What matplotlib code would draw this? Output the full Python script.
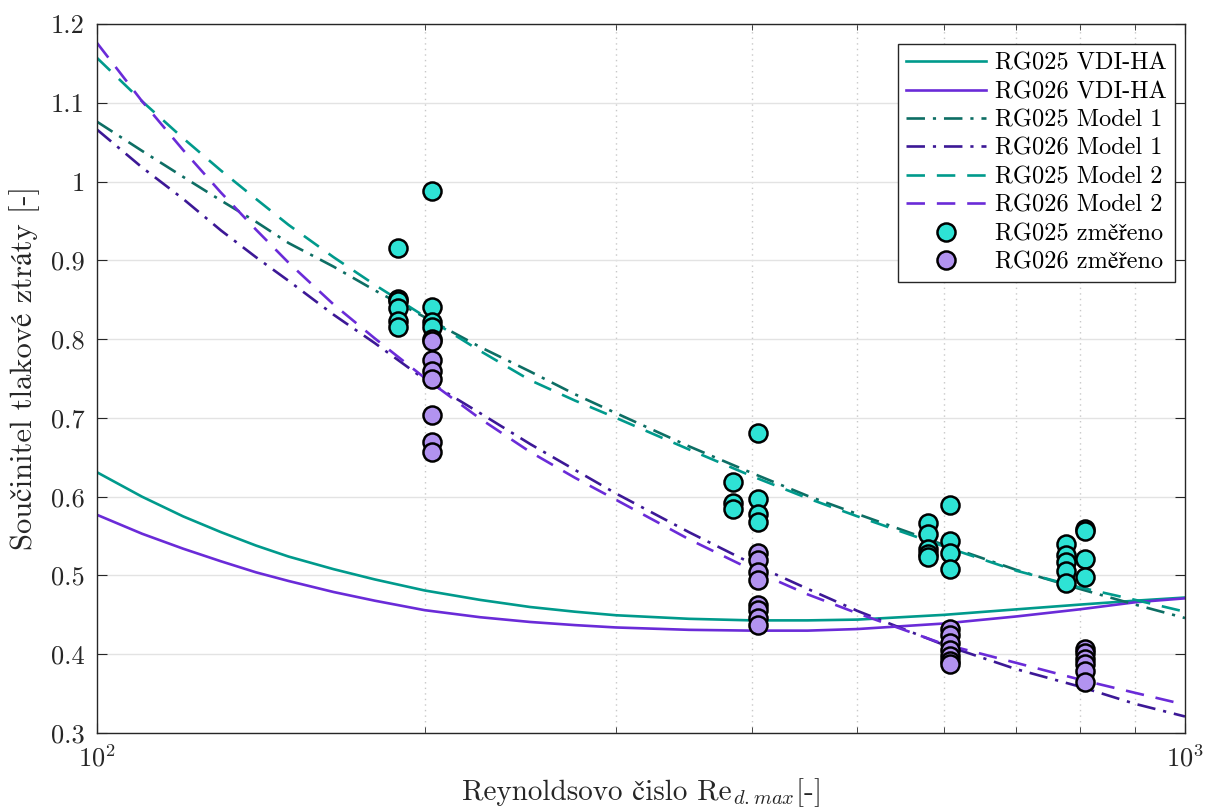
import numpy as np
import matplotlib
matplotlib.use("Agg")
import matplotlib.pyplot as plt
from matplotlib.ticker import LogLocator, NullFormatter, MultipleLocator

plt.rcParams['font.family'] = ['cmr10', 'STIXGeneral', 'DejaVu Serif']
plt.rcParams['mathtext.fontset'] = 'custom'
plt.rcParams['mathtext.rm'] = 'cmr10'
plt.rcParams['mathtext.it'] = 'cmmi10'
plt.rcParams['mathtext.bf'] = 'cmb10'
plt.rcParams['mathtext.fallback'] = 'stix'
plt.rcParams['axes.formatter.use_mathtext'] = True

# ============================================================
# data
# ============================================================
re_curve = [100, 110, 120, 130, 140, 150, 165, 180, 200, 225, 250, 275, 300,
            350, 400, 450, 500, 600, 700, 800, 900, 1000]
vdi_025 = [0.631, 0.600, 0.575, 0.555, 0.538, 0.524, 0.508, 0.495, 0.481, 0.469, 0.460,
           0.454, 0.4495, 0.445, 0.443, 0.443, 0.444, 0.450, 0.457, 0.463, 0.468, 0.472]
vdi_026 = [0.577, 0.553, 0.534, 0.518, 0.504, 0.493, 0.479, 0.468, 0.456, 0.447, 0.441,
           0.437, 0.434, 0.431, 0.430, 0.430, 0.432, 0.439, 0.448, 0.457, 0.466, 0.471]
m1_025 = [1.076, 1.039, 1.006, 0.976, 0.949, 0.922, 0.892, 0.862, 0.828, 0.790, 0.759,
          0.730, 0.706, 0.664, 0.630, 0.601, 0.578, 0.539, 0.507, 0.483, 0.463, 0.446]
m1_026 = [1.066, 1.018, 0.978, 0.938, 0.904, 0.874, 0.831, 0.795, 0.749, 0.706, 0.667,
          0.634, 0.604, 0.555, 0.515, 0.483, 0.455, 0.412, 0.381, 0.359, 0.337, 0.321]
m2_025 = [1.157, 1.102, 1.055, 1.014, 0.978, 0.945, 0.904, 0.869, 0.829, 0.785, 0.748,
          0.722, 0.700, 0.660, 0.626, 0.598, 0.575, 0.537, 0.506, 0.485, 0.469, 0.454]
m2_026 = [1.176, 1.102, 1.040, 0.986, 0.939, 0.897, 0.844, 0.801, 0.751, 0.699, 0.657,
          0.624, 0.596, 0.546, 0.507, 0.476, 0.452, 0.413, 0.389, 0.368, 0.351, 0.336]

re_meas_025 = [189] * 6 + [203] * 4 + [384] * 3 + [405] * 4 + [581] * 5 + [608] * 4 + [778] * 5 + [809] * 4
k_meas_025 = [0.916, 0.851, 0.848, 0.840, 0.823, 0.816,
              0.988, 0.841, 0.822, 0.816,
              0.619, 0.592, 0.584,
              0.681, 0.597, 0.578, 0.568,
              0.567, 0.553, 0.533, 0.527, 0.523,
              0.590, 0.544, 0.528, 0.508,
              0.540, 0.526, 0.517, 0.506, 0.490,
              0.559, 0.556, 0.521, 0.498]

re_meas_026 = [203] * 8 + [405] * 8 + [608] * 7 + [809] * 6
k_meas_026 = [0.800, 0.798, 0.774, 0.759, 0.749, 0.704, 0.670, 0.657,
              0.528, 0.520, 0.505, 0.494, 0.463, 0.456, 0.446, 0.437,
              0.432, 0.424, 0.414, 0.405, 0.398, 0.391, 0.387,
              0.407, 0.401, 0.394, 0.387, 0.379, 0.365]

# ============================================================
# plot
# ============================================================
c_teal = '#009a8c'
c_teal_dark = '#0d6e64'
c_purple = '#6a2bd8'
c_purple_dark = '#3c1896'
c_text = '#262626'

fig = plt.figure(figsize=(12.05, 8.09), dpi=100)
ax = fig.add_axes([0.0805, 0.0939, 0.9029, 0.8764])

lw = 1.9
ax.plot(re_curve, vdi_025, '-', color=c_teal, lw=lw, label='RG025 VDI-HA')
ax.plot(re_curve, vdi_026, '-', color=c_purple, lw=lw, label='RG026 VDI-HA')
ax.plot(re_curve, m1_025, color=c_teal_dark, lw=lw, dashes=(7, 3, 1.2, 3), label='RG025 Model 1')
ax.plot(re_curve, m1_026, color=c_purple_dark, lw=lw, dashes=(7, 3, 1.2, 3), label='RG026 Model 1')
ax.plot(re_curve, m2_025, color=c_teal, lw=lw, dashes=(7, 4.5), label='RG025 Model 2')
ax.plot(re_curve, m2_026, color=c_purple, lw=lw, dashes=(7, 4.5), label='RG026 Model 2')
ax.plot(re_meas_025, k_meas_025, 'o', ls='none', ms=13, mfc='#2ee3d5', mec='black', mew=1.8,
        label='RG025 změřeno', zorder=5)
ax.plot(re_meas_026, k_meas_026, 'o', ls='none', ms=13, mfc='#b293f0', mec='black', mew=1.8,
        label='RG026 změřeno', zorder=5)

ax.set_xscale('log')
ax.set_xlim(100, 1000)
ax.set_ylim(0.3, 1.2)
ax.yaxis.set_major_locator(MultipleLocator(0.1))
ax.yaxis.set_major_formatter(plt.FuncFormatter(lambda v, p: f'{v:g}'))
ax.xaxis.set_minor_locator(LogLocator(base=10, subs=np.arange(2, 10)))
ax.xaxis.set_minor_formatter(NullFormatter())

ax.grid(True, which='major', axis='y', color='#e3e3e3', lw=1.0)
ax.grid(True, which='minor', axis='x', color='#c8c8c8', lw=1.0, ls=(0, (1, 3)))
ax.set_axisbelow(True)

for s in ax.spines.values():
    s.set_color(c_text)
    s.set_linewidth(1.0)
ax.tick_params(which='both', direction='in', top=True, right=True, colors=c_text,
               labelsize=19)
ax.tick_params(which='major', length=7)
ax.tick_params(which='minor', length=4)
ax.tick_params(axis='x', pad=8)
ax.tick_params(axis='y', pad=9)

ax.set_ylabel('Součinitel tlakové ztráty [-]', fontsize=22, color=c_text)
ax.yaxis.set_label_coords(-0.052, 0.515)

# x label in two parts: plain text (for the accented letter) + math subscript
fs_x = 21
t1 = fig.text(0, 9 / 809, 'Reynoldsovo čislo Re', fontsize=fs_x, color=c_text, va='baseline')
t2 = fig.text(0, 9 / 809, r'$_{d.max}$[-]', fontsize=fs_x, color=c_text, va='baseline')
fig.canvas.draw()
r = fig.canvas.get_renderer()
w1 = t1.get_window_extent(r).width
w2 = t2.get_window_extent(r).width
x0 = 641 - (w1 + w2) / 2
t1.set_x(x0 / 1205)
t2.set_x((x0 + w1) / 1205)

leg = ax.legend(loc='upper right', fontsize=17.5, handlelength=3.3, fancybox=False,
                framealpha=1, edgecolor=c_text, borderpad=0.35, labelspacing=0.26,
                handletextpad=0.35, borderaxespad=0, bbox_to_anchor=(0.9908, 0.9718))
leg.get_frame().set_linewidth(1.0)

fig.savefig('out.png', dpi=100)
